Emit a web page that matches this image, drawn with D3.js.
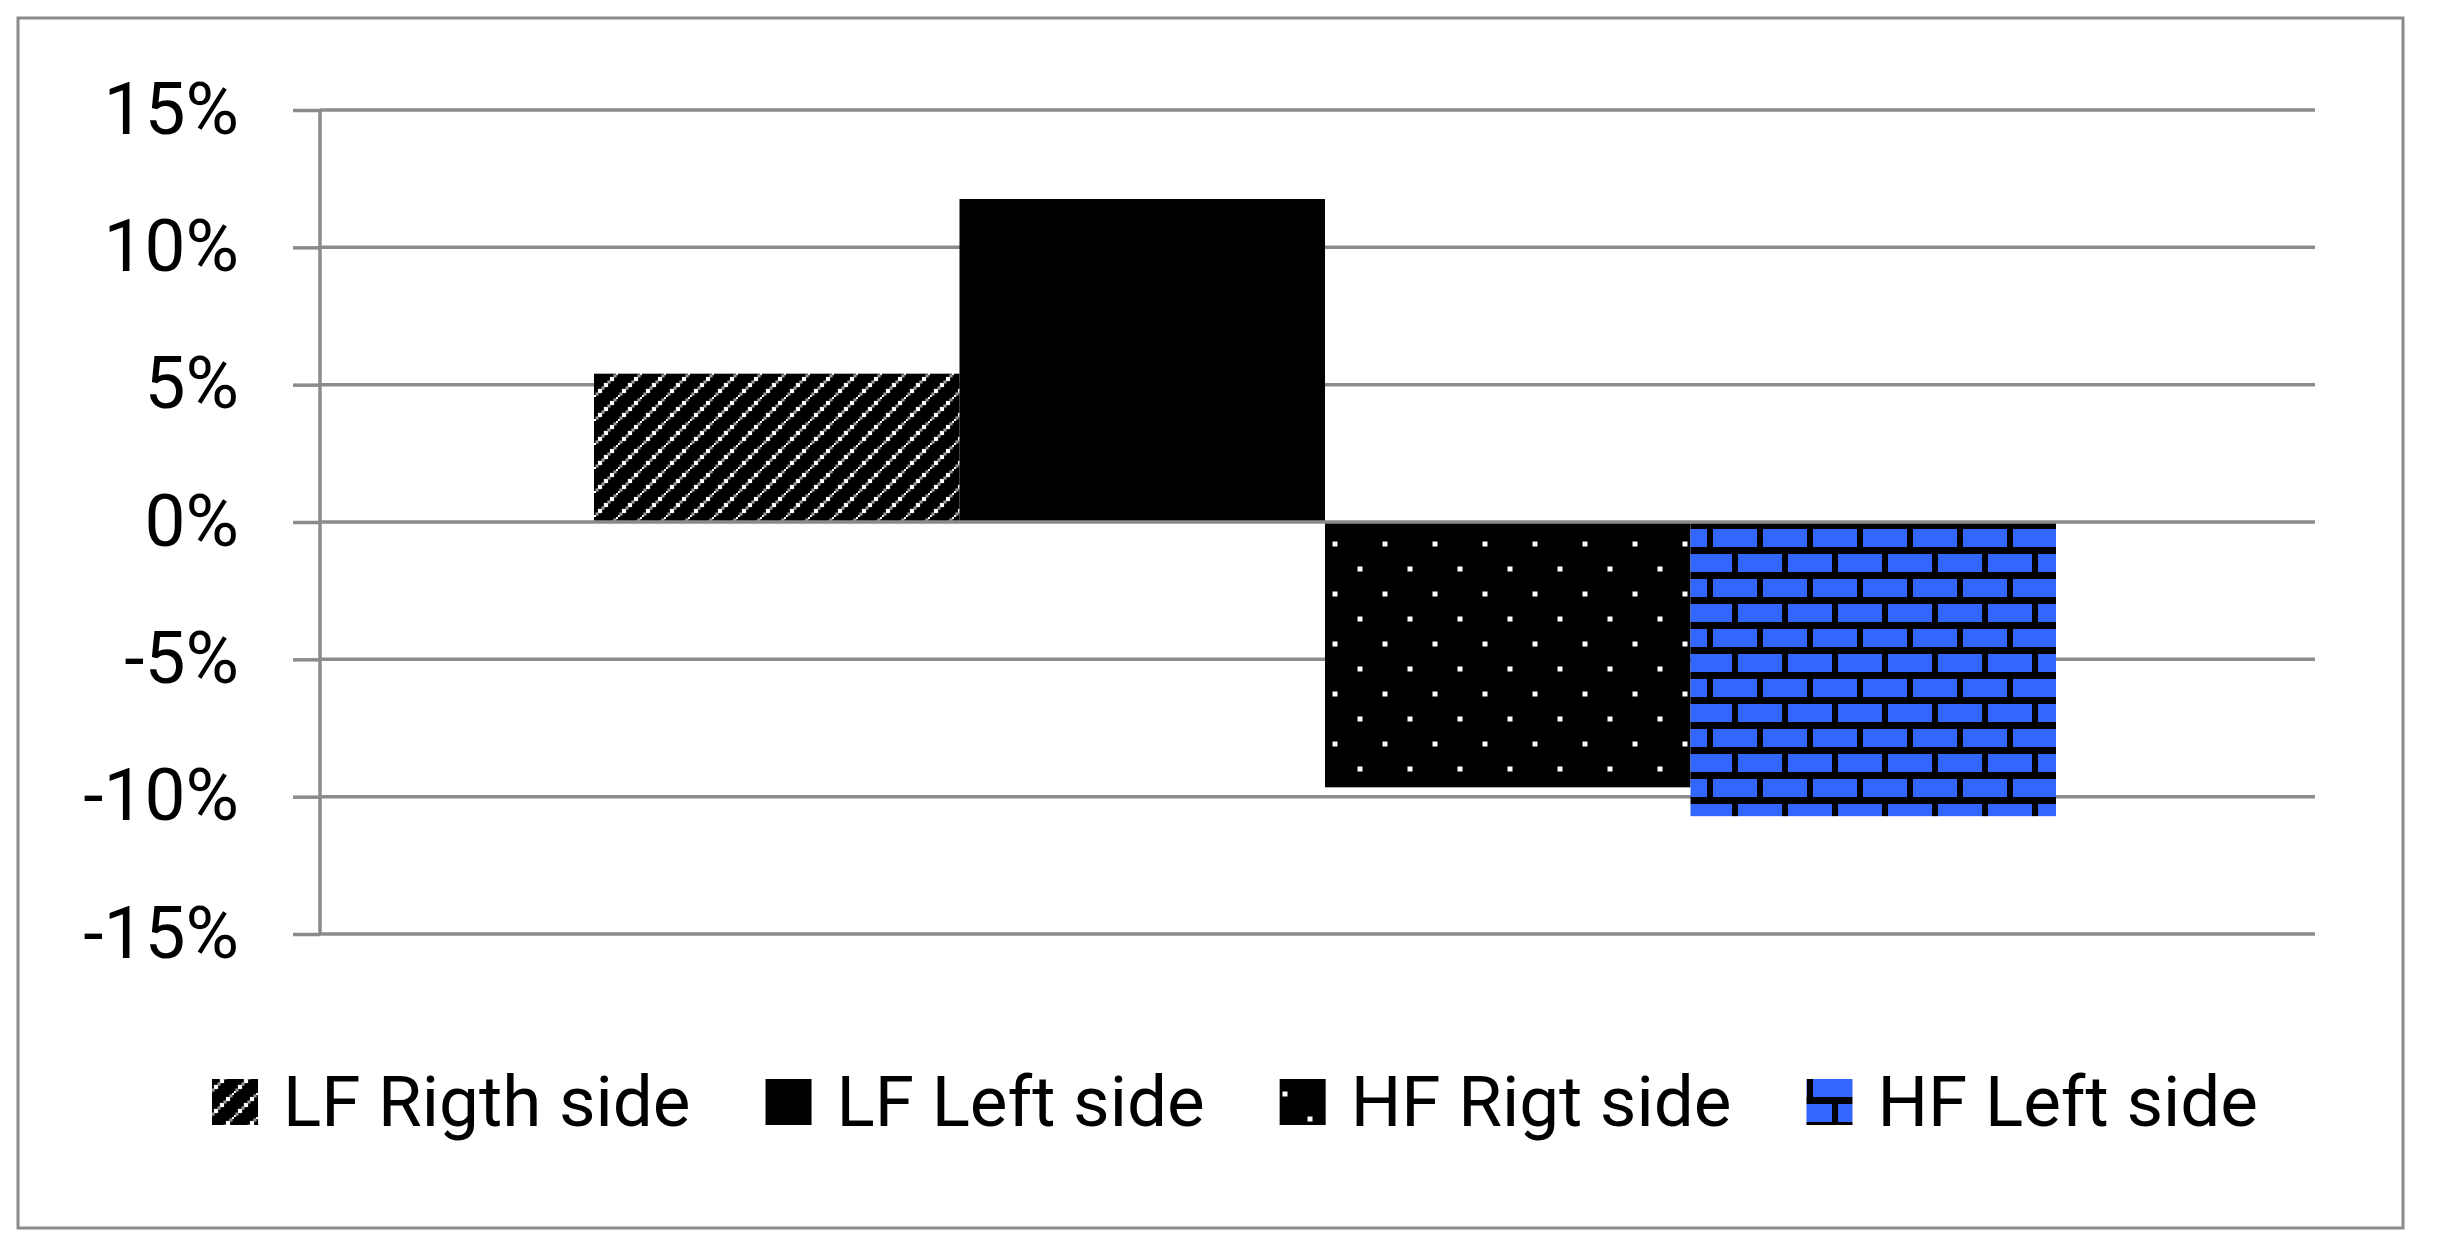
<!DOCTYPE html>
<html>
<head>
<meta charset="utf-8">
<script src="https://cdn.jsdelivr.net/npm/d3@7"></script>
<style>
  html, body { margin: 0; padding: 0; background: #fff; }
  svg { display: block; }
  text { font-family: Roboto, "Noto Sans", sans-serif; fill: #000; }
</style>
</head>
<body>
<svg id="chart" width="2444" height="1244"></svg>
<script>
// ---- data ----
const categories = ["LF Rigth side", "LF Left side", "HF Rigt side", "HF Left side"];
const values = [5.4, 11.76, -9.66, -10.71];
const yTicks = [-15, -10, -5, 0, 5, 10, 15];
const patternIds = ["diag", "solid", "dots", "brick"];

// ---- layout ----
const plot = { left: 320, right: 2315, top: 110, bottom: 934 };
const gray = "#8b8b8b";
const fontSize = 73;
const legendFontSize = 71;

const svg = d3.select("#chart");

// patterns
const defs = svg.append("defs");
// diagonal dotted lines (upward)
const pd = defs.append("pattern").attr("id", "diag").attr("patternUnits", "userSpaceOnUse")
  .attr("width", 24).attr("height", 24).attr("x", 594).attr("y", 373);
pd.append("rect").attr("width", 24).attr("height", 24).attr("fill", "#000");
[[0,24],[6,18],[12,12],[18,6],[24,0],[3,21],[9,15],[15,9],[21,3]].forEach(([cx, cy], i) => {
  const s = i < 5 ? 4.2 : 3.2;
  pd.append("rect").attr("x", cx - s / 2).attr("y", cy - s / 2).attr("width", s).attr("height", s)
    .attr("fill", i < 5 ? "#fff" : "#9a9a9a");
});
// dots on black
const pdots = defs.append("pattern").attr("id", "dots").attr("patternUnits", "userSpaceOnUse")
  .attr("width", 50).attr("height", 50).attr("x", 1335 - 25).attr("y", 544 - 25);
pdots.append("rect").attr("width", 50).attr("height", 50).attr("fill", "#000");
[[25, 25], [0, 0], [50, 0], [0, 50], [50, 50]].forEach(([cx, cy]) => {
  pdots.append("rect").attr("x", cx - 2.5).attr("y", cy - 2.5).attr("width", 5).attr("height", 5).attr("fill", "#fff");
});
// bricks
const blue = "#3366ff";
const pb = defs.append("pattern").attr("id", "brick").attr("patternUnits", "userSpaceOnUse")
  .attr("width", 50).attr("height", 50).attr("x", 1713).attr("y", 529);
pb.append("rect").attr("width", 50).attr("height", 50).attr("fill", "#000");
pb.append("rect").attr("x", 0).attr("y", 0).attr("width", 44).attr("height", 18).attr("fill", blue);
pb.append("rect").attr("x", 25).attr("y", 25).attr("width", 25).attr("height", 18).attr("fill", blue);
pb.append("rect").attr("x", 0).attr("y", 25).attr("width", 19).attr("height", 18).attr("fill", blue);

// outer border
svg.append("rect").attr("x", 18).attr("y", 18).attr("width", 2403 - 18).attr("height", 1228 - 18)
  .attr("fill", "#fff").attr("stroke", gray).attr("stroke-width", 3);

// scales
const y = d3.scaleLinear().domain([-15, 15]).range([plot.bottom, plot.top]);
const x = d3.scaleBand().domain(categories).range([594, 2056]).padding(0);

// gridlines
svg.append("g").selectAll("line").data(yTicks.filter(d => d !== 0)).join("line")
  .attr("x1", plot.left).attr("x2", plot.right)
  .attr("y1", d => y(d)).attr("y2", d => y(d))
  .attr("stroke", gray).attr("stroke-width", 3.5);

// bars
svg.append("g").selectAll("rect").data(categories).join("rect")
  .attr("x", d => x(d))
  .attr("width", x.bandwidth())
  .attr("y", (d, i) => y(Math.max(0, values[i])))
  .attr("height", (d, i) => Math.abs(y(values[i]) - y(0)))
  .attr("fill", (d, i) => patternIds[i] === "solid" ? "#000" : `url(#${patternIds[i]})`);

// zero line (horizontal axis) on top
svg.append("line").attr("x1", plot.left).attr("x2", plot.right)
  .attr("y1", y(0)).attr("y2", y(0)).attr("stroke", gray).attr("stroke-width", 3.5);

// y axis
const yAxis = d3.axisLeft(y).tickValues(yTicks).tickSize(27).tickPadding(54)
  .tickFormat(d => `${d}%`);
const ga = svg.append("g").attr("transform", `translate(${plot.left},0)`).call(yAxis);
ga.select(".domain").attr("stroke", gray).attr("stroke-width", 3.5).attr("d", `M0,${plot.top}V${plot.bottom}`);
ga.selectAll(".tick line").attr("stroke", gray).attr("stroke-width", 3.5);
ga.selectAll(".tick text").attr("font-size", fontSize).attr("font-family", "Roboto, 'Noto Sans', sans-serif")
  .attr("dy", 23).attr("fill", "#000");

// legend
const lg = svg.append("g");
const items = lg.selectAll("g").data(categories).join("g");
items.append("rect").attr("width", 46).attr("height", 46).attr("y", 1079)
  .attr("fill", (d, i) => patternIds[i] === "solid" ? "#000" : `url(#${patternIds[i]})`);
items.append("text").attr("x", 71).attr("y", 1126).attr("font-size", legendFontSize).text(d => d);
let cx = 0;
const offsets = [];
items.each(function () {
  const tw = d3.select(this).select("text").node().getComputedTextLength();
  offsets.push(cx);
  cx += 71 + tw + 75;
});
const totalW = cx - 75;
const start = 1235 - totalW / 2;
items.each(function (d, i) {
  const g = d3.select(this);
  const ox = start + offsets[i];
  g.select("rect").attr("x", ox);
  g.select("text").attr("x", ox + 71);
});
</script>
</body>
</html>
